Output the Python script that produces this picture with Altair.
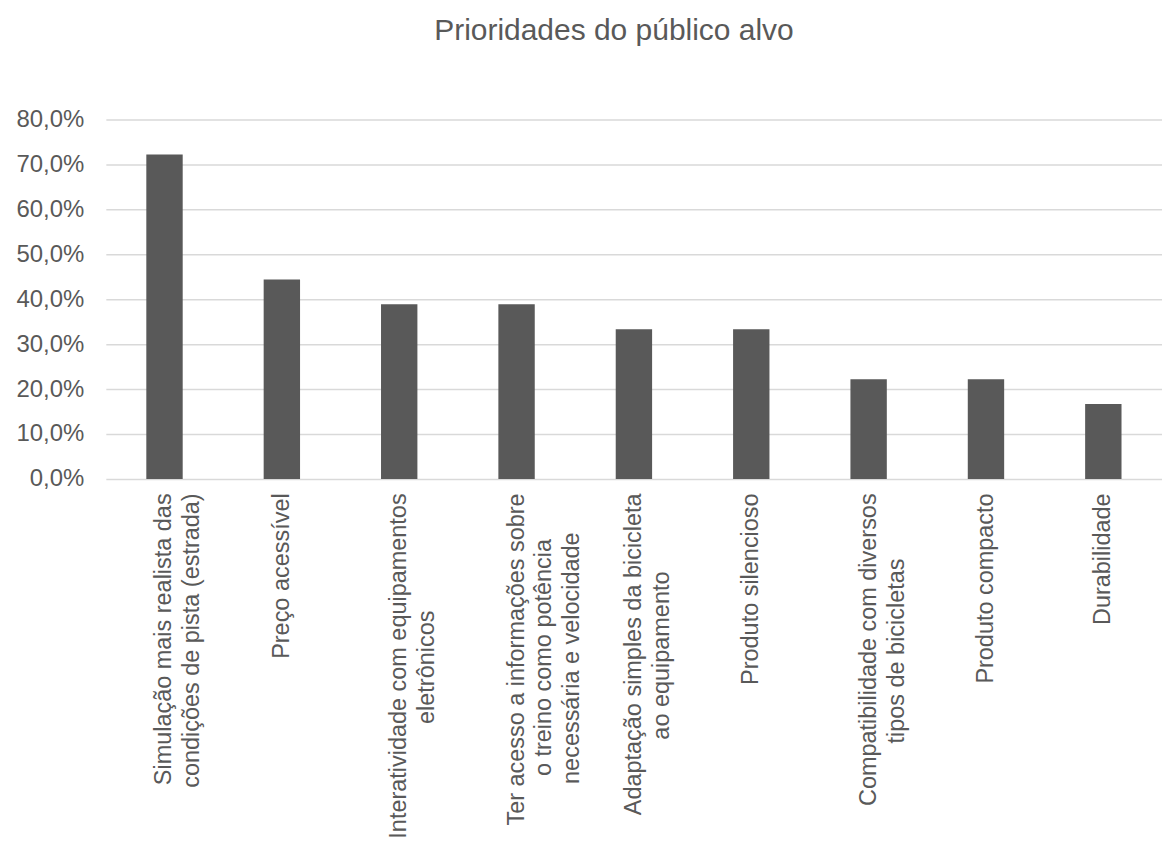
import altair as alt
import pandas as pd

NB = "\u00a0"
WJ = "\u2060"


def pad(n):
    return NB * n + WJ


# Category labels; "|" marks a line break in the axis label
categories = [
    "Simulação mais realista das|condições de pista (estrada)",
    "Preço acessível",
    "Interatividade com equipamentos|eletrônicos" + pad(18),
    "Ter acesso a informações sobre|o treino como potência" + pad(7) + "|necessária e velocidade" + pad(6),
    "Adaptação simples da bicicleta|ao equipamento" + pad(12),
    "Produto silencioso",
    "Compatibilidade com diversos|tipos de bicicletas" + pad(10),
    "Produto compacto",
    "Durabilidade",
]
values = [0.722, 0.444, 0.389, 0.389, 0.333, 0.333, 0.222, 0.222, 0.167]
y_ticks = [0.0, 0.1, 0.2, 0.3, 0.4, 0.5, 0.6, 0.7, 0.8]

df = pd.DataFrame({"categoria": categories, "valor": values})

TXT = "#595959"
FONT = "Liberation Sans"

chart = (
    alt.Chart(df)
    .mark_bar(color="#595959")
    .encode(
        x=alt.X(
            "categoria:N",
            sort=categories,
            title=None,
            scale=alt.Scale(paddingInner=0.69, paddingOuter=0.345),
            axis=alt.Axis(
                labelAngle=270,
                labelExpr="split(datum.label, '|')",
                labelFontSize=23.5,
                labelLineHeight=28,
                labelPadding=14,
                labelColor=TXT,
                labelFont=FONT,
                labelLimit=0,
                domain=False,
                ticks=False,
                grid=False,
            ),
        ),
        y=alt.Y(
            "valor:Q",
            title=None,
            scale=alt.Scale(domain=[0, 0.8], nice=False),
            axis=alt.Axis(
                values=y_ticks,
                labelExpr="replace(format(datum.value, '.1%'), '.', ',')",
                labelFontSize=24,
                labelColor=TXT,
                labelFont=FONT,
                labelPadding=22,
                domain=False,
                ticks=False,
                gridColor="#d9d9d9",
                gridWidth=1.5,
            ),
        ),
    )
    .properties(
        width=1058,
        height=360,
        padding={"left": 7, "top": 7, "right": 0, "bottom": 0},
        title=alt.TitleParams(
            "Prioridades do público alvo",
            fontSize=30,
            font=FONT,
            fontWeight="normal",
            color=TXT,
            anchor="middle",
            frame="group",
            dx=-20,
            offset=62,
        ),
    )
    .configure_view(stroke=None)
)

chart.save("out.html", embed_options={"renderer": "svg", "actions": False})
